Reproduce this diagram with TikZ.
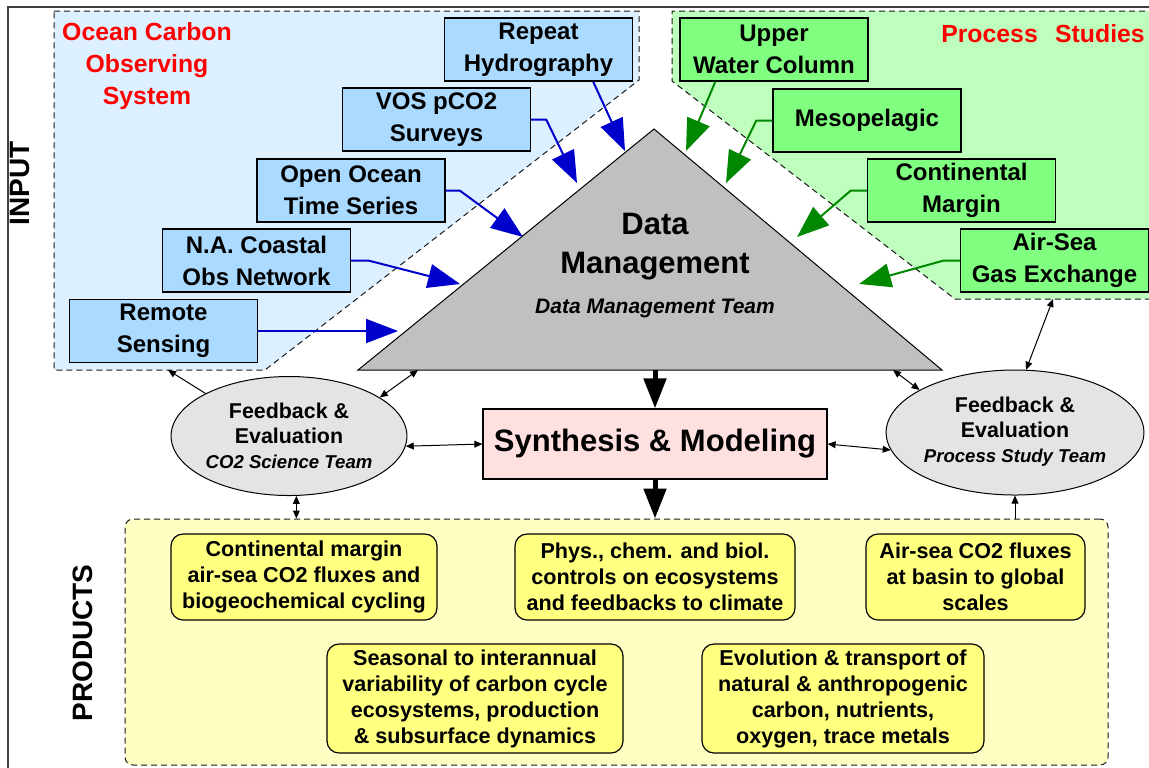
\documentclass[tikz,border=0pt]{standalone}
\usepackage{fontspec}
\setmainfont{Liberation Sans}
\usepackage{xcolor}
\usetikzlibrary{
  arrows.meta,
  positioning,
  calc,
  shapes.geometric
}
\definecolor{obsfill}{RGB}{221,240,255}
\definecolor{obsbox}{RGB}{170,218,255}
\definecolor{psfill}{RGB}{190,255,190}
\definecolor{psbox}{RGB}{128,255,128}
\definecolor{trigray}{RGB}{192,192,192}
\definecolor{fbgray}{RGB}{228,228,228}
\definecolor{synpink}{RGB}{255,224,224}
\definecolor{prodfill}{RGB}{255,255,196}
\definecolor{prodbox}{RGB}{255,255,128}
\definecolor{inblue}{RGB}{0,0,204}
\definecolor{ingreen}{RGB}{0,136,0}
\definecolor{titlered}{RGB}{255,0,0}
\newcommand\fbteam{\fontsize{9.3}{12}\selectfont\bfseries\itshape}

\begin{document}
\begin{tikzpicture}[x=0.5pt, y=-0.5pt,
frame/.style={line width=0.8pt, draw=black!75},
obsarea/.style={draw=black!90, fill=obsfill, dash pattern=on 3pt off 2pt, line width=0.5pt},
psarea/.style={obsarea, fill=psfill},
obsbx/.style={draw, line width=0.7pt, fill=obsbox, minimum width=94pt, minimum height=31.5pt, inner sep=0pt, align=center, font={\fontsize{12}{16}\selectfont\bfseries}},
psbx/.style={obsbx, fill=psbox},
ttl/.style={text=titlered, align=center, font={\fontsize{12.4}{16}\selectfont\bfseries}},
dmtri/.style={draw, fill=trigray, line width=0.5pt},
dmtxt/.style={align=center, font={\fontsize{15.5}{19.5}\selectfont\bfseries}},
dmteam/.style={font={\fontsize{10.5}{12}\selectfont\bfseries\itshape}},
synbx/.style={draw, line width=0.6pt, fill=synpink, minimum width=172pt, minimum height=35pt, inner sep=0pt, font={\fontsize{15.5}{18}\selectfont\bfseries}},
fbell/.style={ellipse, draw, line width=0.5pt, fill=fbgray, minimum width=110pt, inner sep=0pt, align=center, font={\fontsize{10.7}{12.5}\selectfont\bfseries}},
prodarea/.style={draw=black!90, fill=prodfill, dash pattern=on 3pt off 2pt, line width=0.5pt, rounded corners=4pt, minimum width=491.5pt, minimum height=123pt},
prodbx/.style={draw, line width=0.6pt, fill=prodbox, rounded corners=6pt, inner sep=0pt, align=center, font={\fontsize{10.8}{13}\selectfont\bfseries}},
sidelbl/.style={rotate=90, font={\fontsize{14}{16}\selectfont\bfseries}},
inarr/.style={draw=inblue, line width=1pt, -{Triangle[length=16pt,width=12pt]}},
gnarr/.style={inarr, draw=ingreen},
bigarr/.style={line width=2.5pt, -{Triangle[length=15pt,width=11pt]}},
lnk/.style={line width=0.5pt, {Triangle[length=4pt,width=3.4pt]}-{Triangle[length=4pt,width=3.4pt]}},
lnkto/.style={line width=0.5pt, -{Triangle[length=4pt,width=3.4pt]}}
]
\useasboundingbox (0,0) rectangle (1149,767);
\draw[frame] (8,780) -- (8,7) -- (1160,7);

\draw[obsarea] (54,11) -- (639,11) -- (639,80) -- (265,370) -- (54,370) -- cycle;
\draw[psarea] (1165,11) -- (672,11) -- (672,81) -- (955,299) -- (1165,299);
\node[prodarea] (prods) at (616.5,642) {};

\node[ttl] (obstitle) at (147,66) {Ocean Carbon\\Observing\\System};
\node[ttl] (pstitle) at (1043,34) {Process\hspace{0.7em}Studies};
\node[sidelbl] (inlbl) at (20,183) {INPUT};
\node[sidelbl] (prodlbl) at (83,643) {PRODUCTS};

\node[obsbx] (rep) at (538.5,49.5) {Repeat\\Hydrography};
\node[obsbx] (vos) at (436.5,119.5) {VOS pCO2\\Surveys};
\node[obsbx] (oot) at (351,190.5) {Open Ocean\\Time Series};
\node[obsbx] (nac) at (256.5,260.5) {N.A. Coastal\\Obs Network};
\node[obsbx] (rs)  at (163.5,331) {Remote\\Sensing};

\node[psbx] (uwc)  at (774,49.5) {Upper\\Water Column};
\node[psbx] (meso) at (867,120.5) {Mesopelagic};
\node[psbx] (cm)   at (961.5,190.5) {Continental\\Margin};
\node[psbx] (asg)  at (1054.5,260.5) {Air-Sea\\Gas Exchange};

\coordinate (apex) at (654,129);
\coordinate (bl) at (358,370);
\coordinate (br) at (942,370);
\draw[dmtri] (apex) -- (bl) -- (br) -- cycle;
\node[dmtxt] (dmtitle) at (655,246.5) {Data\\Management};
\node[dmteam] (dmteamlbl) at (655,308) {Data Management Team};

\coordinate (trep) at (625,151);
\coordinate (tvos) at (577,183);
\coordinate (toot) at (523,237);
\coordinate (tnac) at (460,284);
\coordinate (trs)  at (398,331);
\coordinate (tuwc) at (686,151);
\coordinate (tmeso) at (726,183);
\coordinate (tcm)  at (797,237);
\coordinate (tasg) at (859,284);
\coordinate (tbase) at (655,370);
\coordinate (tbl2) at (418,370);
\coordinate (tbr2) at (893,370);
\coordinate (obsbot) at (168,370);
\coordinate (psbot) at (1053,299);

\draw[inarr] (rep.south east) ++(-40,0) -- (trep);
\draw[inarr] (vos.east) -- ++(15,0) -- (tvos);
\draw[inarr] (oot.east) -- ++(14,0) -- (toot);
\draw[inarr] (nac.east) -- ++(17,0) -- (tnac);
\draw[inarr] (rs.east) -- (trs);
\draw[gnarr] (uwc.south west) ++(36,0) -- (tuwc);
\draw[gnarr] (meso.west) -- ++(-16,0) -- (tmeso);
\draw[gnarr] (cm.west) -- ++(-16,0) -- (tcm);
\draw[gnarr] (asg.west) -- ++(-16,0) -- (tasg);

\node[synbx] (synth) at (655,444) {Synthesis \& Modeling};
\node[fbell, minimum height=59.5pt] (fbl) at (289,436) {Feedback \&\\Evaluation\\{\fbteam CO2 Science Team}};
\node[fbell, minimum height=62.5pt] (fbr) at (1015,432.5) {\raisebox{3.5pt}{\begin{tabular}{@{}c@{}}Feedback \&\\Evaluation\\{\fbteam Process Study Team}\end{tabular}}};

\draw[bigarr] (tbase) -- (synth.north);
\draw[bigarr] (synth.south) -- (synth.south |- prods.north);
\draw[lnk] (fbl.-5) -- (synth.west);
\draw[lnk] (synth.east) -- (fbr.188);
\draw[lnkto] (fbl.153) -- (obsbot);
\draw[lnk] (fbl.23) -- (tbl2);
\draw[lnk] (fbl.-83) -- (fbl.-83 |- prods.north);
\draw[lnk] (fbr.156) -- (tbr2);
\draw[lnk] (fbr.80) -- (psbot);
\draw[lnkto] (fbr.south |- prods.north) -- (fbr.south);

\node[prodbx, minimum width=133pt, minimum height=43pt] (pcont) at (304,577) {Continental margin\\air-sea CO2 fluxes and\\biogeochemical cycling};
\node[prodbx, minimum width=140pt, minimum height=43pt] (pphys) at (655,577) {Phys., chem. and biol.\\controls on ecosystems\\and feedbacks to climate};
\node[prodbx, minimum width=109.5pt, minimum height=43pt] (pflux) at (975.5,577) {Air-sea CO2 fluxes\\at basin to global\\scales};
\node[prodbx, minimum width=148pt, minimum height=54.5pt] (pseas) at (475,698.5) {Seasonal to interannual\\variability of carbon cycle\\ecosystems, production\\\& subsurface dynamics};
\node[prodbx, minimum width=141pt, minimum height=54.5pt] (pevol) at (843,698.5) {Evolution \& transport of\\natural \& anthropogenic\\carbon, nutrients,\\oxygen, trace metals};
\end{tikzpicture}
\end{document}
